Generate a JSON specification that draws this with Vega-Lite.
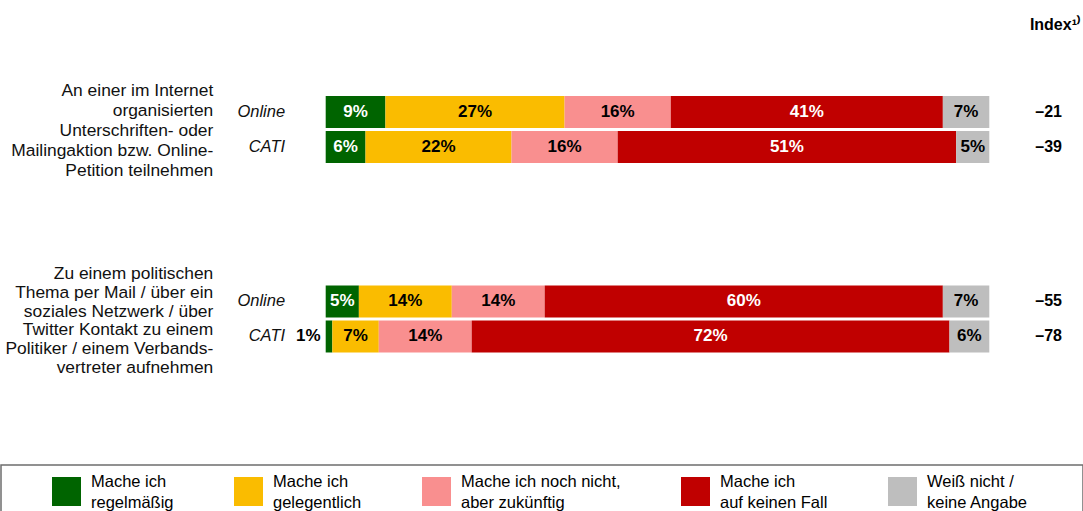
{
  "$schema": "https://vega.github.io/schema/vega-lite/v6.json",
  "width": 1083,
  "height": 511,
  "autosize": {"type": "none"},
  "padding": 0,
  "background": "white",
  "config": {
    "view": {"stroke": null},
    "font": "Liberation Sans",
    "legend": {"labelFont": "Liberation Sans"}
  },
  "title": {
    "text": "Index¹⁾",
    "anchor": "end",
    "frame": "group",
    "orient": "top",
    "offset": -33,
    "dx": -2,
    "fontSize": 16,
    "fontWeight": "bold",
    "color": "#000000",
    "font": "Liberation Sans"
  },
  "datasets": {
    "seg": [
      {"q": "A", "m": "Online", "k": 1, "cat": "Mache ich|regelmäßig", "pct": 9},
      {"q": "A", "m": "Online", "k": 2, "cat": "Mache ich|gelegentlich", "pct": 27},
      {"q": "A", "m": "Online", "k": 3, "cat": "Mache ich noch nicht,|aber zukünftig", "pct": 16},
      {"q": "A", "m": "Online", "k": 4, "cat": "Mache ich|auf keinen Fall", "pct": 41},
      {"q": "A", "m": "Online", "k": 5, "cat": "Weiß nicht /|keine Angabe", "pct": 7},
      {"q": "A", "m": "CATI", "k": 1, "cat": "Mache ich|regelmäßig", "pct": 6},
      {"q": "A", "m": "CATI", "k": 2, "cat": "Mache ich|gelegentlich", "pct": 22},
      {"q": "A", "m": "CATI", "k": 3, "cat": "Mache ich noch nicht,|aber zukünftig", "pct": 16},
      {"q": "A", "m": "CATI", "k": 4, "cat": "Mache ich|auf keinen Fall", "pct": 51},
      {"q": "A", "m": "CATI", "k": 5, "cat": "Weiß nicht /|keine Angabe", "pct": 5},
      {"q": "B", "m": "Online", "k": 1, "cat": "Mache ich|regelmäßig", "pct": 5},
      {"q": "B", "m": "Online", "k": 2, "cat": "Mache ich|gelegentlich", "pct": 14},
      {"q": "B", "m": "Online", "k": 3, "cat": "Mache ich noch nicht,|aber zukünftig", "pct": 14},
      {"q": "B", "m": "Online", "k": 4, "cat": "Mache ich|auf keinen Fall", "pct": 60},
      {"q": "B", "m": "Online", "k": 5, "cat": "Weiß nicht /|keine Angabe", "pct": 7},
      {"q": "B", "m": "CATI", "k": 1, "cat": "Mache ich|regelmäßig", "pct": 1},
      {"q": "B", "m": "CATI", "k": 2, "cat": "Mache ich|gelegentlich", "pct": 7},
      {"q": "B", "m": "CATI", "k": 3, "cat": "Mache ich noch nicht,|aber zukünftig", "pct": 14},
      {"q": "B", "m": "CATI", "k": 4, "cat": "Mache ich|auf keinen Fall", "pct": 72},
      {"q": "B", "m": "CATI", "k": 5, "cat": "Weiß nicht /|keine Angabe", "pct": 6}
    ],
    "questions": [
      {"q": "A", "lines": ["An einer im Internet", "organisierten", "Unterschriften- oder", "Mailingaktion bzw. Online-", "Petition teilnehmen"]},
      {"q": "B", "lines": ["Zu einem politischen", "Thema per Mail / über ein", "soziales Netzwerk / über", "Twitter Kontakt zu einem", "Politiker / einem Verbands-", "vertreter aufnehmen"]}
    ],
    "rows": [
      {"q": "A", "m": "Online", "idx": "–21"},
      {"q": "A", "m": "CATI", "idx": "–39"},
      {"q": "B", "m": "Online", "idx": "–55"},
      {"q": "B", "m": "CATI", "idx": "–78"}
    ]
  },
  "layer": [
    {
      "data": {"name": "seg"},
      "transform": [
        {"stack": "pct", "groupby": ["q", "m"], "sort": [{"field": "k", "order": "ascending"}], "as": ["x0", "x1"]}
      ],
      "mark": {"type": "bar"},
      "encoding": {
        "y": {"field": "q", "type": "nominal", "scale": {"domain": ["A", "B"], "paddingInner": 0.6306, "paddingOuter": 0.6636, "align": 0.3757}, "axis": null},
        "yOffset": {"field": "m", "type": "nominal", "scale": {"domain": ["Online", "CATI"], "paddingInner": 0.0857, "paddingOuter": 0.043}},
        "x": {"field": "x0", "type": "quantitative", "scale": {"domain": [-49.08, 114.12], "nice": false, "zero": false}, "axis": null},
        "x2": {"field": "x1"},
        "color": {
          "field": "cat",
          "type": "nominal",
          "scale": {
            "domain": ["Mache ich|regelmäßig", "Mache ich|gelegentlich", "Mache ich noch nicht,|aber zukünftig", "Mache ich|auf keinen Fall", "Weiß nicht /|keine Angabe"],
            "range": ["#006400", "#FABC00", "#F98F8F", "#C00000", "#BEBEBE"]
          },
          "legend": {
            "orient": "none",
            "legendX": 1,
            "legendY": 465,
            "direction": "horizontal",
            "columns": 5,
            "columnPadding": 60,
            "symbolType": "square",
            "symbolSize": 841,
            "symbolStrokeWidth": 0,
            "symbolOpacity": 1,
            "labelOffset": 10,
            "labelFontSize": 16.5,
            "labelFont": "Liberation Sans",
            "labelColor": "#000000",
            "labelLimit": 400,
            "labelExpr": "indexof(datum.label, 'Wei') == 0 ? split(datum.label + '\u2009\u2009\u2800\u2800\u2800', '|') : split(datum.label, '|')",
            "strokeColor": "#6e6e6e",
            "padding": 12,
            "title": " ",
            "titleOrient": "left",
            "titleFontSize": 1,
            "titlePadding": 39,
            "labelBaseline": "middle",
            "encode": {
              "labels": {"update": {"lineHeight": {"value": 21}, "dy": {"value": -10}}},
              "legend": {"update": {"strokeWidth": {"value": 1.5}}}
            }
          }
        }
      }
    },
    {
      "data": {"name": "seg"},
      "transform": [
        {"stack": "pct", "groupby": ["q", "m"], "sort": [{"field": "k", "order": "ascending"}], "as": ["x0", "x1"]},
        {"filter": "datum.pct >= 3"},
        {"calculate": "(datum.x0 + datum.x1) / 2", "as": "mid"},
        {"calculate": "datum.pct + '%'", "as": "lbl"}
      ],
      "mark": {"type": "text", "fontWeight": "bold", "fontSize": 17, "baseline": "middle", "align": "center", "font": "Liberation Sans"},
      "encoding": {
        "y": {"field": "q", "type": "nominal"},
        "yOffset": {"field": "m", "type": "nominal"},
        "x": {"field": "mid", "type": "quantitative"},
        "text": {"field": "lbl"},
        "color": {"condition": {"test": "datum.k == 1 || datum.k == 4", "value": "#ffffff"}, "value": "#000000"}
      }
    },
    {
      "data": {"name": "seg"},
      "transform": [
        {"stack": "pct", "groupby": ["q", "m"], "sort": [{"field": "k", "order": "ascending"}], "as": ["x0", "x1"]},
        {"filter": "datum.pct < 3"},
        {"calculate": "datum.pct + '%'", "as": "lbl"}
      ],
      "mark": {"type": "text", "fontWeight": "bold", "fontSize": 17, "baseline": "middle", "align": "right", "dx": -5, "font": "Liberation Sans", "color": "#000000"},
      "encoding": {
        "y": {"field": "q", "type": "nominal"},
        "yOffset": {"field": "m", "type": "nominal"},
        "x": {"field": "x0", "type": "quantitative"},
        "text": {"field": "lbl"}
      }
    },
    {
      "data": {"name": "questions"},
      "transform": [{"filter": "datum.q == 'A'"}],
      "mark": {"type": "text", "align": "right", "baseline": "middle", "fontSize": 17.4, "lineHeight": 20, "dy": -38.5, "font": "Liberation Sans", "color": "#111111"},
      "encoding": {
        "y": {"field": "q", "type": "nominal"},
        "x": {"datum": -16.94, "type": "quantitative"},
        "text": {"field": "lines"}
      }
    },
    {
      "data": {"name": "questions"},
      "transform": [{"filter": "datum.q == 'B'"}],
      "mark": {"type": "text", "align": "right", "baseline": "middle", "fontSize": 17.4, "lineHeight": 18.8, "dy": -45, "font": "Liberation Sans", "color": "#111111"},
      "encoding": {
        "y": {"field": "q", "type": "nominal"},
        "x": {"datum": -16.94, "type": "quantitative"},
        "text": {"field": "lines"}
      }
    },
    {
      "data": {"name": "rows"},
      "mark": {"type": "text", "align": "right", "baseline": "middle", "fontSize": 16.5, "fontStyle": "italic", "font": "Liberation Sans", "color": "#111111"},
      "encoding": {
        "y": {"field": "q", "type": "nominal"},
        "yOffset": {"field": "m", "type": "nominal"},
        "x": {"datum": -6.12, "type": "quantitative"},
        "text": {"field": "m"}
      }
    },
    {
      "data": {"name": "rows"},
      "mark": {"type": "text", "align": "right", "baseline": "middle", "fontSize": 16, "fontWeight": "bold", "font": "Liberation Sans", "color": "#000000"},
      "encoding": {
        "y": {"field": "q", "type": "nominal"},
        "yOffset": {"field": "m", "type": "nominal"},
        "x": {"datum": 110.96, "type": "quantitative"},
        "text": {"field": "idx"}
      }
    }
  ]
}
